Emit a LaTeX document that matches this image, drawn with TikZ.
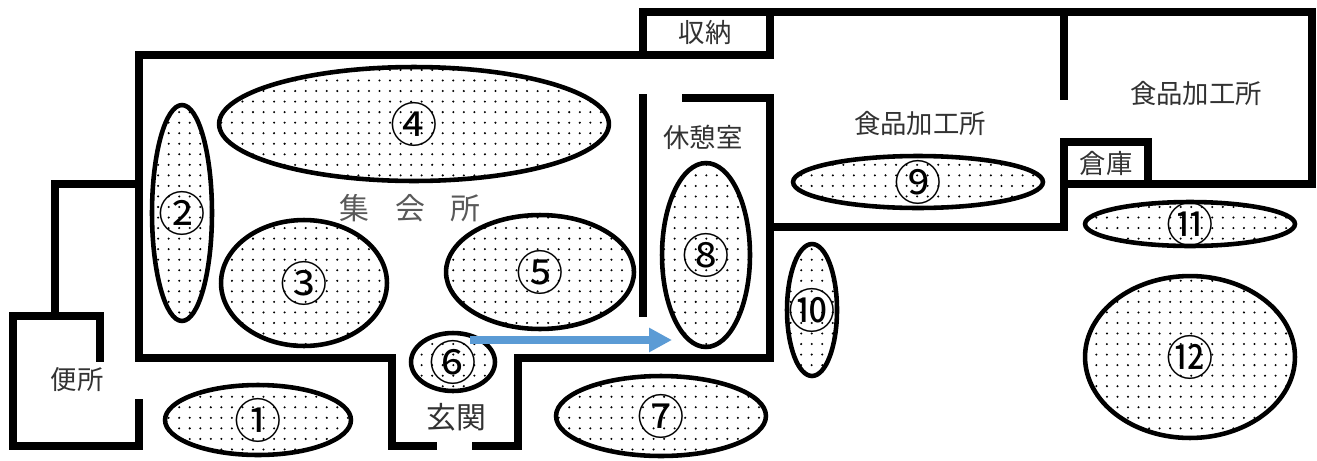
\documentclass[tikz,border=0pt]{standalone}
\usepackage{fontspec}
\usepackage{tikz}
\usetikzlibrary{shapes.geometric,patterns.meta,arrows.meta}
\newfontfamily\jp{Noto Sans CJK JP}
\definecolor{labelgray}{RGB}{50,50,50}
\definecolor{hallgray}{RGB}{89,89,89}
\definecolor{flowblue}{RGB}{91,155,213}

\tikzset{
  wall/.style={line width=5pt, line cap=rect, line join=miter},
  spot/.style={ellipse, draw, line width=2.6pt, inner sep=0pt,
    pattern={Dots[distance=6pt,radius=0.65pt]}},
  num/.style={font=\jp\fontsize{27}{27}\selectfont, inner sep=0pt},
  rad/.style 2 args={minimum width=#1*0.04cm, minimum height=#2*0.04cm},
  room/.style={text=labelgray, font=\jp\fontsize{15}{15}\selectfont}
}

\begin{document}
\begin{tikzpicture}[x=0.02cm, y=-0.02cm]
\useasboundingbox[fill=white] (0,0) rectangle (1317,460);

% walls
\draw[wall] (100,358) -- (100,316) -- (13,316) -- (13,446) -- (139,446) -- (139,403);
\draw[wall] (55,316) -- (55,184) -- (139,184);
\draw[wall] (433,446) -- (392,446) -- (392,358) -- (139,358) -- (139,55) -- (770,55) -- (770,12);
\draw[wall] (643,55) -- (643,12) -- (1312,12) -- (1312,184) -- (1064,184);
\draw[wall] (476,446) -- (518,446) -- (518,358) -- (770,358) -- (770,98) -- (686,98);
\draw[wall] (643,98) -- (643,313);
\draw[wall] (770,227) -- (1064,227) -- (1064,142) -- (1148,142) -- (1148,184);
\draw[wall] (1064,12) -- (1064,96);

% rooms
\node[room] (shuno) at (705,32) {収納};
\node[room] (kyukei) at (703,137) {休憩室};
\node[room] (shokuhinA) at (920,123) {食品加工所};
\node[room] (shokuhinB) at (1196,93) {食品加工所};
\node[room] (soko) at (1106,163) {倉庫};
\node[room] (benjo) at (77,380) {便所};
\node[room, font=\jp\fontsize{17}{17}\selectfont] (genkan) at (456,417) {玄関};
\node[text=hallgray, font=\jp\fontsize{17}{17}\selectfont] (hall) at (410,208)
  {集\hspace{0.85em}会\hspace{0.85em}所};

% spots
\node[spot, rad={93}{35}, label={[num]center:①}] (s1) at (258,420) {};
\node[spot, rad={30}{108}, label={[num]center:②}] (s2) at (182,213) {};
\node[spot, rad={83}{63}, label={[num]center:③}] (s3) at (304,283) {};
\node[spot, rad={195}{57}, label={[num]center:④}] (s4) at (414,124) {};
\node[spot, rad={94}{57}, label={[num]center:⑤}] (s5) at (540,272) {};
\node[spot, rad={42}{29}, label={[num]center:⑥}] (s6) at (453,362) {};
\node[spot, rad={105}{40}, label={[num]center:⑦}] (s7) at (661,416) {};
\node[spot, rad={44}{92}, label={[num]center:⑧}] (s8) at (706,255) {};
\node[spot, rad={125}{26}, label={[num]center:⑨}] (s9) at (918,182) {};
\node[spot, rad={25}{66}, label={[num]center:⑩}] (s10) at (812,310) {};
\node[spot, rad={105}{22}, label={[num]center:⑪}] (s11) at (1190,224) {};
\node[spot, rad={105}{81}, label={[num]center:⑫}] (s12) at (1190,357) {};

\coordinate (start) at (470,340);
\coordinate (goal) at (672,340);
\draw[flowblue, line width=4.8pt, -{Triangle[length=13pt,width=13pt]}] (start) -- (goal);

\end{tikzpicture}
\end{document}
